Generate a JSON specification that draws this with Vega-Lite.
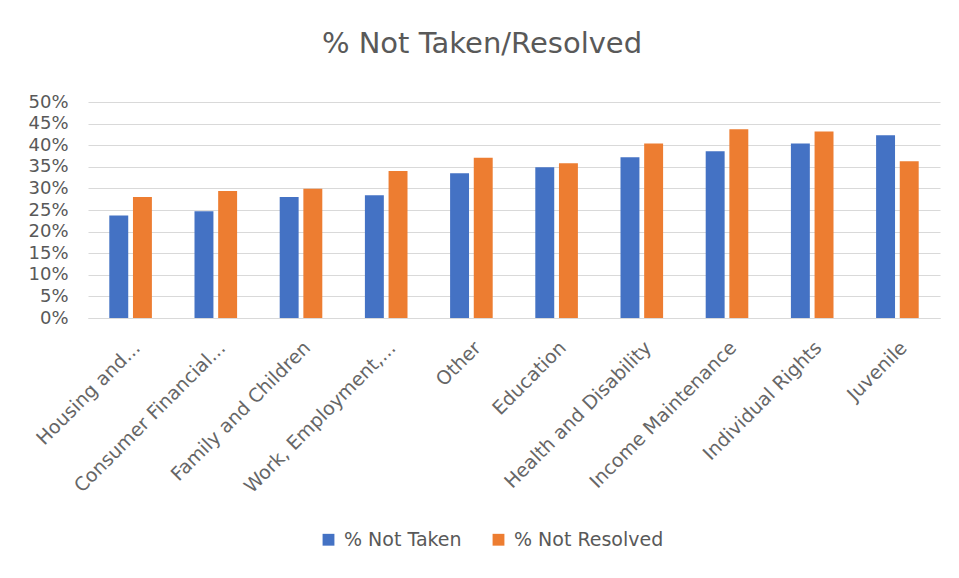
{
  "$schema": "https://vega.github.io/schema/vega-lite/v6.json",
  "autosize": "none",
  "width": 852,
  "height": 216,
  "padding": {"left": 88, "top": 102, "right": 19, "bottom": 260},
  "background": "white",
  "title": {
    "text": "% Not Taken/Resolved",
    "anchor": "middle",
    "dx": -32,
    "offset": 34,
    "fontSize": 29,
    "font": "DejaVu Sans",
    "fontWeight": "normal",
    "color": "#595959"
  },
  "data": {
    "values": [
      {"category": "Housing and...", "series": "% Not Taken", "value": 0.237},
      {"category": "Housing and...", "series": "% Not Resolved", "value": 0.280},
      {"category": "Consumer Financial...", "series": "% Not Taken", "value": 0.247},
      {"category": "Consumer Financial...", "series": "% Not Resolved", "value": 0.294},
      {"category": "Family and Children", "series": "% Not Taken", "value": 0.280},
      {"category": "Family and Children", "series": "% Not Resolved", "value": 0.299},
      {"category": "Work, Employment,...", "series": "% Not Taken", "value": 0.284},
      {"category": "Work, Employment,...", "series": "% Not Resolved", "value": 0.340},
      {"category": "Other", "series": "% Not Taken", "value": 0.335},
      {"category": "Other", "series": "% Not Resolved", "value": 0.371},
      {"category": "Education", "series": "% Not Taken", "value": 0.349},
      {"category": "Education", "series": "% Not Resolved", "value": 0.358},
      {"category": "Health and Disability", "series": "% Not Taken", "value": 0.372},
      {"category": "Health and Disability", "series": "% Not Resolved", "value": 0.404},
      {"category": "Income Maintenance", "series": "% Not Taken", "value": 0.386},
      {"category": "Income Maintenance", "series": "% Not Resolved", "value": 0.437},
      {"category": "Individual Rights", "series": "% Not Taken", "value": 0.404},
      {"category": "Individual Rights", "series": "% Not Resolved", "value": 0.432},
      {"category": "Juvenile", "series": "% Not Taken", "value": 0.423},
      {"category": "Juvenile", "series": "% Not Resolved", "value": 0.363}
    ]
  },
  "mark": {"type": "bar"},
  "encoding": {
    "x": {
      "field": "category",
      "type": "nominal",
      "sort": null,
      "title": null,
      "scale": {"paddingInner": 0.5, "paddingOuter": 0.25},
      "axis": {
        "labelAngle": -45,
        "labelFontSize": 19,
        "labelFont": "DejaVu Sans",
        "labelColor": "#666666",
        "labelPadding": 20,
        "ticks": false,
        "domainColor": "#d9d9d9",
        "labelLimit": 300
      }
    },
    "xOffset": {
      "field": "series",
      "type": "nominal",
      "sort": ["% Not Taken", "% Not Resolved"],
      "scale": {"paddingInner": 0.2, "paddingOuter": 0}
    },
    "y": {
      "field": "value",
      "type": "quantitative",
      "title": null,
      "scale": {"domain": [0, 0.5], "nice": false},
      "axis": {
        "values": [0, 0.05, 0.1, 0.15, 0.2, 0.25, 0.3, 0.35, 0.4, 0.45, 0.5],
        "format": ".0%",
        "labelFontSize": 18,
        "labelFont": "DejaVu Sans",
        "labelColor": "#595959",
        "labelPadding": 20,
        "ticks": false,
        "domain": false,
        "gridColor": "#d9d9d9",
        "gridWidth": 1
      }
    },
    "color": {
      "field": "series",
      "type": "nominal",
      "sort": ["% Not Taken", "% Not Resolved"],
      "scale": {"domain": ["% Not Taken", "% Not Resolved"], "range": ["#4472C4", "#ED7D31"]},
      "legend": {
        "title": null,
        "orient": "none",
        "direction": "horizontal",
        "legendX": 231,
        "legendY": 428,
        "symbolType": "square",
        "symbolSize": 140,
        "symbolStrokeWidth": 0,
        "labelFontSize": 19,
        "labelFont": "DejaVu Sans",
        "labelColor": "#595959",
        "labelOffset": 6,
        "columnPadding": 27
      }
    }
  },
  "config": {
    "view": {"stroke": null},
    "axisX": {"grid": false}
  }
}
